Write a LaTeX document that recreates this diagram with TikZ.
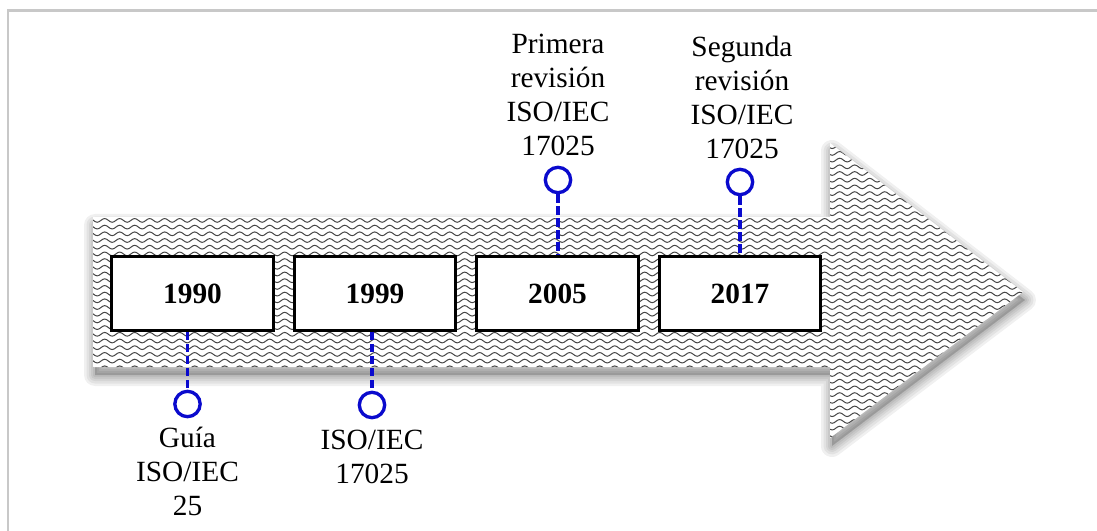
\documentclass[tikz,border=0pt]{standalone}
\usepackage{fontspec}
\setmainfont{Liberation Serif}
\usetikzlibrary{decorations.pathmorphing}
\definecolor{frame}{RGB}{200,200,200}
\definecolor{pat}{RGB}{70,70,70}
\definecolor{conn}{RGB}{10,10,205}
\tikzset{
  yearbox/.style={draw=black, line width=2.4pt, fill=white, minimum width=121pt, minimum height=55pt, inner sep=0pt, font=\fontsize{22}{26}\selectfont\bfseries},
  pin/.style={circle, draw=conn, line width=2.5pt, fill=white, minimum size=19pt, inner sep=0pt},
  connline/.style={draw=conn, line width=2.6pt, dash pattern=on 6.5pt off 2.5pt},
  lbl/.style={align=center, inner sep=0pt, font=\fontsize{22}{25.5}\selectfont},
  wave/.style={draw=pat, line width=0.75pt, decorate, decoration={snake, segment length=11.25pt, amplitude=1.4pt}}
}
\begin{document}
\begin{tikzpicture}[x=0.75pt,y=-0.75pt]
\useasboundingbox (0,0) rectangle (1097,531);
% frame
\draw[frame, line width=1.6pt] (8,531) -- (8,10.5) -- (1097,10.5);
% arrow shape
\def\arrowpath{(93,217) -- (830,217) -- (830,143) -- (1023,292) -- (830,438) -- (830,367) -- (93,367) -- cycle}
% shadow
\foreach \w in {22,17,12,8,4}{
  \draw[black, opacity=0.06, line width=\w*0.75pt, line join=round, fill=black, fill opacity=0.04, shift={(2,8)}] \arrowpath;
}
\fill[white] \arrowpath;
\begin{scope}
  \clip \arrowpath;
  \foreach \k in {0,...,45}{
    \draw[wave] (85,{140+\k*6.7}) -- (1040,{140+\k*6.7});
  }
\end{scope}
% boxes
\node[yearbox] (b1) at (192.5,293.5) {1990};
\node[yearbox] (b2) at (375,293.5) {1999};
\node[yearbox] (b3) at (557.5,293.5) {2005};
\node[yearbox] (b4) at (740,293.5) {2017};
% pins
\node[pin] (p1) at (187.5,404) {};
\node[pin] (p2) at (372,405) {};
\node[pin] (p3) at (558,180) {};
\node[pin] (p4) at (740,182) {};
\draw[connline] (b1.south -| p1) -- (p1.north);
\draw[connline] (b2.south -| p2) -- (p2.north);
\draw[connline] (p3.south) -- (b3.north -| p3);
\draw[connline] (p4.south) -- (b4.north -| p4);
% labels
\node[lbl, anchor=north] (l1) at (187.5,427) {Guía\\ISO/IEC\\25};
\node[lbl, anchor=north] (l2) at (372,430) {ISO/IEC\\17025};
\node[lbl, anchor=south] (l3) at (558,156) {Primera\\revisión\\ISO/IEC\\17025};
\node[lbl, anchor=south] (l4) at (742,159) {Segunda\\revisión\\ISO/IEC\\17025};
\end{tikzpicture}
\end{document}
